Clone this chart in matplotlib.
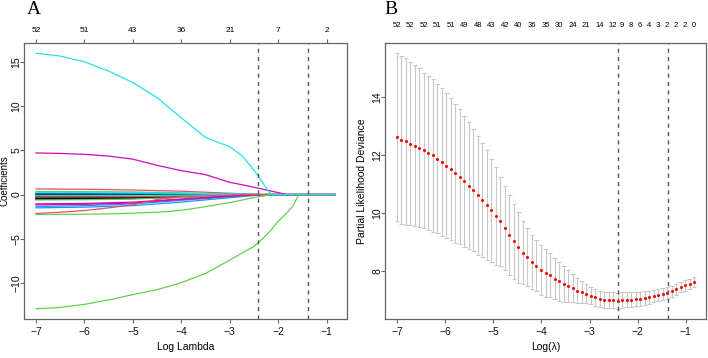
import matplotlib
matplotlib.use("Agg")
import matplotlib.pyplot as plt
import numpy as np

plt.rcParams['font.family'] = ['Liberation Sans Narrow', 'Liberation Sans', 'DejaVu Sans']

# ---- shared lambda grid (log scale) ----
n_lambda = 67
log_lambda = np.linspace(-7.0, -0.83, n_lambda)
lambda_min = -2.41
lambda_1se = -1.38

# ---- panel A: coefficient paths ----
top_ticks_A = [-7, -6, -5, -4, -3, -2, -1]
top_labels_A = [52, 51, 43, 36, 21, 7, 2]

path_x = [-7.0, -6.5, -6.0, -5.5, -5.0, -4.5, -4.0, -3.5, -3.0, -2.75,
          -2.5, -2.25, -2.15, -2.0, -1.83, -1.7, -1.58, -1.4, -0.83]
cyan_big = [15.97, 15.65, 15.0, 13.95, 12.65, 10.95, 8.65, 6.45, 5.4, 4.4,
            2.75, 0.75, 0, 0, 0, 0, 0, 0, 0]
magenta_big = [4.7, 4.65, 4.55, 4.35, 4.0, 3.3, 2.7, 2.25, 1.38, 1.12,
               0.82, 0.52, 0.4, 0.22, 0, 0, 0, 0, 0]
green_big = [-12.9, -12.75, -12.4, -11.9, -11.3, -10.75, -9.95, -8.9, -7.4, -6.6,
             -5.85, -4.6, -4.0, -3.0, -2.1, -1.3, 0, 0, 0]
green_small = [-2.25, -2.24, -2.22, -2.18, -2.1, -2.0, -1.78, -1.36, -0.9, -0.62,
               -0.33, -0.1, 0, 0, 0, 0, 0, 0, 0]
red_low = [-2.14, -2.0, -1.8, -1.5, -1.15, -0.55, -0.25, -0.15, -0.05, 0,
           0, 0, 0, 0, 0, 0, 0, 0, 0]

minor_x = [-7.0, -6.0, -5.0, -4.0, -3.0, -2.5, -2.25, -0.83]
minor_paths = [
    ("black", [-0.20, -0.20, -0.18, -0.12, -0.05, 0, 0, 0]),
    ("black", [-0.35, -0.34, -0.30, -0.20, -0.08, -0.02, 0, 0]),
    ("black", [0.08, 0.08, 0.07, 0.05, 0.02, 0, 0, 0]),
    ("black", [-0.45, -0.43, -0.38, -0.25, -0.10, -0.03, 0, 0]),
    ("black", [-0.55, -0.52, -0.45, -0.28, -0.10, -0.03, 0, 0]),
    ("black", [-0.05, -0.05, -0.04, -0.03, -0.01, 0, 0, 0]),
    ("red", [0.64, 0.60, 0.52, 0.38, 0.15, 0.04, 0, 0]),
    ("red", [-0.28, -0.27, -0.24, -0.16, -0.06, 0, 0, 0]),
    ("green", [0.35, 0.33, 0.30, 0.20, 0.08, 0.02, 0, 0]),
    ("green", [-0.60, -0.58, -0.50, -0.32, -0.12, -0.03, 0, 0]),
    ("blue", [-1.50, -1.42, -1.25, -0.85, -0.35, -0.10, 0, 0]),
    ("blue", [-1.35, -1.25, -1.05, -0.65, -0.25, -0.05, 0, 0]),
    ("blue", [0.18, 0.17, 0.15, 0.10, 0.04, 0, 0, 0]),
    ("cyan", [0.26, 0.25, 0.22, 0.15, 0.06, 0.02, 0, 0]),
    ("cyan", [-0.12, -0.12, -0.10, -0.07, -0.03, 0, 0, 0]),
    ("magenta", [-1.05, -1.00, -0.85, -0.50, -0.15, -0.04, 0, 0]),
    ("magenta", [-1.15, -1.10, -0.95, -0.55, -0.20, -0.05, 0, 0]),
]

# ---- panel B: cross-validation curve ----
cv_mean = [12.61, 12.52, 12.46, 12.39, 12.32, 12.24, 12.15, 12.07, 11.98, 11.86,
           11.75, 11.63, 11.51, 11.36, 11.24, 11.09, 10.93, 10.77, 10.60, 10.44,
           10.26, 10.08, 9.89, 9.70, 9.46, 9.23, 9.01, 8.80, 8.62, 8.46,
           8.30, 8.17, 8.03, 7.91, 7.83, 7.72, 7.63, 7.54, 7.47, 7.39,
           7.31, 7.25, 7.20, 7.13, 7.07, 7.01, 6.98, 6.97, 6.97, 6.96,
           6.98, 6.99, 7.00, 7.01, 7.02, 7.05, 7.08, 7.11, 7.16, 7.20,
           7.23, 7.29, 7.35, 7.43, 7.49, 7.55, 7.61]
cv_sd = [2.90, 2.90, 2.87, 2.83, 2.78, 2.75, 2.69, 2.66, 2.63, 2.57,
         2.55, 2.49, 2.45, 2.40, 2.33, 2.26, 2.20, 2.11, 2.06, 1.97,
         1.89, 1.79, 1.70, 1.55, 1.45, 1.37, 1.30, 1.22, 1.08, 1.01,
         0.94, 0.89, 0.86, 0.82, 0.76, 0.71, 0.67, 0.62, 0.55, 0.49,
         0.44, 0.38, 0.32, 0.30, 0.28, 0.28, 0.27, 0.28, 0.28, 0.28,
         0.27, 0.26, 0.26, 0.25, 0.24, 0.23, 0.22, 0.21, 0.21, 0.20,
         0.20, 0.19, 0.19, 0.18, 0.18, 0.17, 0.17]
top_idx_B = list(range(0, 49, 3)) + list(range(50, 67, 2))
top_labels_B = [52, 52, 52, 51, 51, 49, 48, 43, 42, 40, 36, 35, 30, 24, 21, 14, 12,
                9, 8, 6, 4, 3, 2, 2, 2, 0]

r_cols = {"black": "#000000", "red": "#DF536B", "green": "#61D04F",
          "blue": "#2297E6", "cyan": "#28E2E5", "magenta": "#CD0BBC"}
frame_col = "#666666"


def style_axes(ax):
    for s in ax.spines.values():
        s.set_color(frame_col)
        s.set_linewidth(0.9)
    ax.tick_params(direction="out", length=3, width=0.8, color=frame_col,
                   labelsize=7.5, pad=2.5, labelcolor="#111111")
    ax.tick_params(axis="y", labelrotation=90, pad=2.5)
    plt.setp(ax.get_yticklabels(), ha="center", va="center")


fig = plt.figure(figsize=(7.08, 3.58), dpi=100)
axA = fig.add_axes([24 / 708, 39 / 358, 323 / 708, 276 / 358])
axB = fig.add_axes([385 / 708, 39 / 358, 321 / 708, 276 / 358])

# panel A
lw = 0.9
for col, vals in minor_paths:
    axA.plot(minor_x, vals, color=r_cols[col], lw=lw)
axA.plot(path_x, red_low, color=r_cols["red"], lw=lw)
axA.plot(path_x, green_small, color=r_cols["green"], lw=lw)
axA.plot(path_x, magenta_big, color=r_cols["magenta"], lw=lw)
axA.plot(path_x, green_big, color=r_cols["green"], lw=lw)
axA.plot(path_x, cyan_big, color=r_cols["cyan"], lw=lw)

pad_x = 0.04 * (log_lambda[-1] - log_lambda[0])
axA.set_xlim(log_lambda[0] - pad_x, log_lambda[-1] + pad_x)
ymin, ymax = min(green_big), max(cyan_big)
pad_y = 0.04 * (ymax - ymin)
axA.set_ylim(ymin - pad_y, ymax + pad_y)
axA.set_xticks(top_ticks_A)
axA.set_yticks([-10, -5, 0, 5, 10, 15])
for v in (lambda_min, lambda_1se):
    axA.axvline(v, color="#555555", lw=1.0, ls=(0, (3, 3)))
axA.set_xlabel("Log Lambda", fontsize=7.5, labelpad=4)
axA.set_ylabel("Coefficients", fontsize=7, va="center")
axA.yaxis.set_label_coords(-0.061, 0.5)
style_axes(axA)
secA = axA.secondary_xaxis("top")
secA.set_xticks(top_ticks_A)
secA.set_xticklabels([str(v) for v in top_labels_A])
secA.tick_params(direction="out", length=3, width=0.8, color=frame_col,
                 labelsize=6, pad=3.5)
secA.spines["top"].set_visible(False)

# panel B
cv_mean_a = np.array(cv_mean)
cv_sd_a = np.array(cv_sd)
upper = cv_mean_a + cv_sd_a
lower = cv_mean_a - cv_sd_a
bar_col = "#C8C8C8"
cap = 0.045
axB.vlines(log_lambda, lower, upper, color=bar_col, lw=0.8)
axB.hlines(upper, log_lambda - cap, log_lambda + cap, color=bar_col, lw=0.8)
axB.hlines(lower, log_lambda - cap, log_lambda + cap, color=bar_col, lw=0.8)
axB.plot(log_lambda, cv_mean_a, "o", color="red", ms=2.2, mec="none")
for v in (lambda_min, lambda_1se):
    axB.axvline(v, color="#555555", lw=1.0, ls=(0, (3, 3)))
axB.set_xlim(log_lambda[0] - pad_x, log_lambda[-1] + pad_x)
pad_yb = 0.04 * (upper.max() - lower.min())
axB.set_ylim(lower.min() - pad_yb, upper.max() + pad_yb)
axB.set_xticks([-7, -6, -5, -4, -3, -2, -1])
axB.set_yticks([8, 10, 12, 14])
axB.set_xlabel("Log(λ)", fontsize=7.5, labelpad=4)
axB.set_ylabel("Partial Likelihood Deviance", fontsize=7.5, va="center")
axB.yaxis.set_label_coords(-0.072, 0.5)
style_axes(axB)
secB = axB.secondary_xaxis("top")
secB.set_xticks(log_lambda[top_idx_B])
secB.set_xticklabels([str(v) for v in top_labels_B])
secB.tick_params(length=0, labelsize=5.5, pad=10)
secB.spines["top"].set_visible(False)

fig.text(27 / 708, 1 - 9 / 358, "A", family="Liberation Serif", fontsize=14, va="center")
fig.text(384 / 708, 1 - 9 / 358, "B", family="Liberation Serif", fontsize=14, va="center")

fig.savefig("out.png", dpi=100)
